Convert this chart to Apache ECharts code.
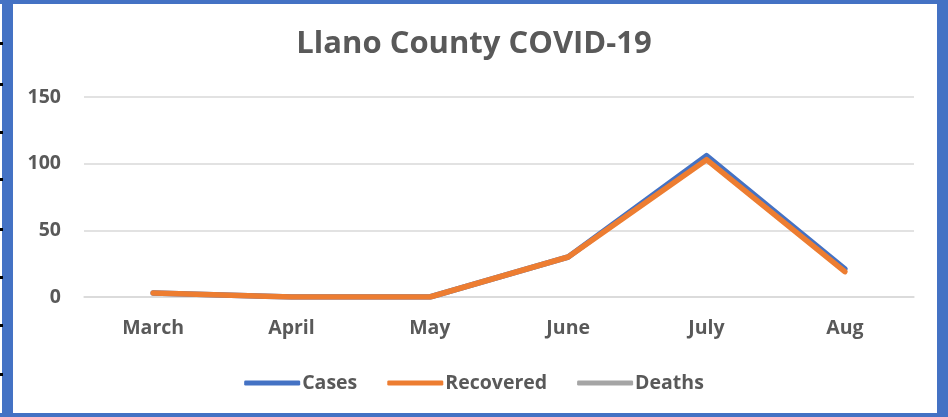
<!DOCTYPE html>
<html>
<head>
<meta charset="utf-8">
<script src="https://cdn.jsdelivr.net/npm/echarts@6/dist/echarts.min.js"></script>
<style>
html,body{margin:0;padding:0;background:#fff;}
#c{width:948px;height:417px;}
</style>
</head>
<body>
<div id="c"></div>
<script>
const categories = ['March', 'April', 'May', 'June', 'July', 'Aug'];
const cases = [3, 0, 0, 30, 106, 21];
const recovered = [3, 0, 0, 30, 103, 19];
const deaths = [null, null, null, null, null, null];
const yTicks = [0, 50, 100, 150];

const chart = echarts.init(document.getElementById('c'));
const fontFamily = 'Open Sans, Noto Sans, sans-serif';
const txt = '#595959';

const graphic = [
  {type:'rect', shape:{x:2, y:0, width:11, height:417}, style:{fill:'#4472C4'}, silent:true},
  {type:'rect', shape:{x:0, y:0, width:948, height:4}, style:{fill:'#4472C4'}, silent:true},
  {type:'rect', shape:{x:937, y:0, width:11, height:417}, style:{fill:'#4472C4'}, silent:true},
  {type:'rect', shape:{x:0, y:413, width:948, height:4}, style:{fill:'#4472C4'}, silent:true}
];
[42, 83, 131, 178, 228, 276, 324, 373].forEach(function(y){
  graphic.push({type:'rect', shape:{x:0, y:y, width:3, height:3}, style:{fill:'#000'}, silent:true});
});

chart.setOption({
  animation: false,
  backgroundColor: '#fff',
  title: {
    text: 'Llano County COVID-19',
    left: 'center',
    top: 24,
    textStyle: {fontFamily: fontFamily, fontWeight: 'bold', fontSize: 31, color: txt}
  },
  legend: {
    bottom: 19,
    left: 'center',
    itemWidth: 56,
    itemHeight: 5,
    itemGap: 30,
    icon: 'roundRect',
    textStyle: {fontFamily: fontFamily, fontWeight: 'bold', fontSize: 19.5, color: txt, padding:[0,0,0,-3]},
    data: ['Cases', 'Recovered', 'Deaths']
  },
  grid: {left: 84, right: 34, top: 97, bottom: 120, containLabel: false},
  xAxis: {
    type: 'category',
    data: categories,
    boundaryGap: true,
    axisLine: {show: true, lineStyle: {color: '#d9d9d9', width: 1.5}},
    axisTick: {show: false},
    axisLabel: {fontFamily: fontFamily, fontWeight: 'bold', fontSize: 19.5, color: txt, margin: 21}
  },
  yAxis: {
    type: 'value',
    min: 0,
    max: 150,
    interval: 50,
    axisLine: {show: false},
    axisTick: {show: false},
    splitLine: {lineStyle: {color: '#d9d9d9', width: 1.5}},
    axisLabel: {fontFamily: fontFamily, fontWeight: 'bold', fontSize: 19.5, color: txt, margin: 23,
      formatter: function(v){ return yTicks.indexOf(v) >= 0 ? String(v) : ''; }}
  },
  graphic: graphic,
  series: [
    {name: 'Cases', type: 'line', data: cases, showSymbol: false, symbol: 'none',
      lineStyle: {color: '#4472C4', width: 5.5, cap: 'round', join: 'round'}, itemStyle: {color: '#4472C4'}},
    {name: 'Recovered', type: 'line', data: recovered, showSymbol: false, symbol: 'none',
      lineStyle: {color: '#ED7D31', width: 5.5, cap: 'round', join: 'round'}, itemStyle: {color: '#ED7D31'}},
    {name: 'Deaths', type: 'line', data: deaths, showSymbol: false, symbol: 'none',
      lineStyle: {color: '#A5A5A5', width: 5.5, cap: 'round'}, itemStyle: {color: '#A5A5A5'}}
  ]
});
</script>
</body>
</html>
